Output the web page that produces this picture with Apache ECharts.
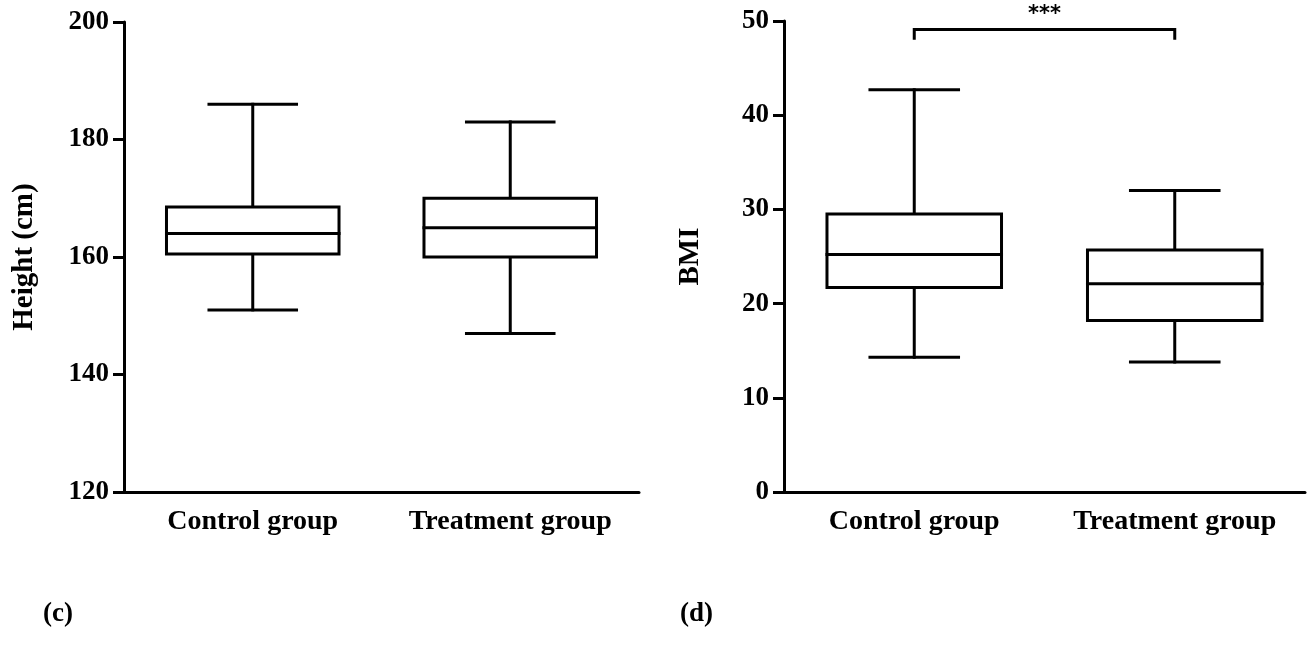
<!DOCTYPE html>
<html>
<head>
<meta charset="utf-8">
<script src="https://cdn.jsdelivr.net/npm/echarts@6/dist/echarts.min.js"></script>
<style>
html,body{margin:0;padding:0;background:#fff;}
#chart{width:1310px;height:662px;}
</style>
</head>
<body>
<div id="chart"></div>
<script>
// ---- data ----
const categories = ['Control group', 'Treatment group'];
// [low whisker, Q1, median, Q3, high whisker]
const heightControl = [151, 160.5, 164, 168.5, 186];
const heightTreatment = [147, 160, 165, 170, 183];
const bmiControl = [14.3, 21.7, 25.2, 29.5, 42.7];
const bmiTreatment = [13.8, 18.2, 22.1, 25.7, 32.0];
const heightTicks = [120, 140, 160, 180, 200];
const bmiTicks = [0, 10, 20, 30, 40, 50];
const sigPair = [0, 1];          // category indices joined by the bracket
const sigLevels = [49.1, 48.0];  // bracket bar level, bracket end level
const sigLabel = '***';
const panelLabels = ['(c)', '(d)'];

const FONT = 'Liberation Serif';
const BLACK = '#000';

function boxRender(params, api) {
  const x = api.value(0);
  const low = api.coord([x, api.value(1)]);
  const q1 = api.coord([x, api.value(2)]);
  const med = api.coord([x, api.value(3)]);
  const q3 = api.coord([x, api.value(4)]);
  const high = api.coord([x, api.value(5)]);
  const band = api.size([1, 0])[0];
  const bw = band * 0.67, cw = band * 0.34;
  const cx = low[0];
  const st = { stroke: BLACK, lineWidth: 3, fill: null, lineCap: 'square' };
  return {
    type: 'group',
    children: [
      { type: 'line', shape: { x1: cx, y1: q3[1], x2: cx, y2: high[1] }, style: st },
      { type: 'line', shape: { x1: cx, y1: q1[1], x2: cx, y2: low[1] }, style: st },
      { type: 'line', shape: { x1: cx - cw / 2, y1: high[1], x2: cx + cw / 2, y2: high[1] }, style: st },
      { type: 'line', shape: { x1: cx - cw / 2, y1: low[1], x2: cx + cw / 2, y2: low[1] }, style: st },
      { type: 'rect', shape: { x: cx - bw / 2, y: q3[1], width: bw, height: q1[1] - q3[1] },
        style: { stroke: BLACK, lineWidth: 3, fill: '#fff' } },
      { type: 'line', shape: { x1: cx - bw / 2, y1: med[1], x2: cx + bw / 2, y2: med[1] }, style: st }
    ]
  };
}

function bracketRender(params, api) {
  const a = api.value(0), b = api.value(1);
  const top = api.value(2), end = api.value(3);
  const p1 = api.coord([a, end]);
  const p2 = api.coord([a, top]);
  const p3 = api.coord([b, top]);
  const p4 = api.coord([b, end]);
  return {
    type: 'group',
    children: [
      { type: 'polyline', shape: { points: [p1, p2, p3, p4] },
        style: { stroke: BLACK, lineWidth: 3, fill: null } },
      { type: 'text', x: (p2[0] + p3[0]) / 2, y: p2[1] - 15,
        style: { text: sigLabel, fill: BLACK, font: 'bold 21px "DejaVu Sans"', align: 'center', verticalAlign: 'middle' } }
    ]
  };
}

function xAxisDef(gridIndex) {
  return {
    type: 'category', gridIndex, data: categories,
    axisLine: { lineStyle: { color: BLACK, width: 3 } },
    axisTick: { alignWithLabel: true, interval: 0, length: 11, lineStyle: { color: BLACK, width: 3 } },
    axisLabel: { interval: 0, hideOverlap: false, color: BLACK, fontFamily: FONT, fontWeight: 'bold', fontSize: 28, margin: 16 },
    splitLine: { show: false }
  };
}
function yAxisDef(gridIndex, ticks, name, gap) {
  return {
    type: 'value', gridIndex,
    min: ticks[0], max: ticks[ticks.length - 1], interval: ticks[1] - ticks[0],
    name, nameLocation: 'middle', nameGap: gap,
    nameTextStyle: { color: BLACK, fontFamily: FONT, fontWeight: 'bold', fontSize: 29 },
    axisLine: { show: true, lineStyle: { color: BLACK, width: 3 } },
    axisTick: { show: true, length: 11, lineStyle: { color: BLACK, width: 3 } },
    axisLabel: { color: BLACK, fontFamily: FONT, fontWeight: 'bold', fontSize: 27, margin: 15 },
    splitLine: { show: false }
  };
}

const chart = echarts.init(document.getElementById('chart'));
chart.setOption({
  backgroundColor: '#fff',
  animation: false,
  title: [
    { text: panelLabels[0], left: 38, top: 596, textStyle: { color: BLACK, fontFamily: FONT, fontWeight: 'bold', fontSize: 27 } },
    { text: panelLabels[1], left: 675, top: 596, textStyle: { color: BLACK, fontFamily: FONT, fontWeight: 'bold', fontSize: 27 } }
  ],
  grid: [
    { left: 124, right: 671, top: 22, bottom: 170 },
    { left: 784, right: 5, top: 21, bottom: 170 }
  ],
  xAxis: [xAxisDef(0), xAxisDef(1)],
  yAxis: [yAxisDef(0, heightTicks, 'Height (cm)', 85), yAxisDef(1, bmiTicks, 'BMI', 79)],
  series: [
    { type: 'custom', xAxisIndex: 0, yAxisIndex: 0, renderItem: boxRender,
      encode: { x: 0, y: [1, 2, 3, 4, 5] },
      data: [[0].concat(heightControl), [1].concat(heightTreatment)] },
    { type: 'custom', xAxisIndex: 1, yAxisIndex: 1, renderItem: boxRender,
      encode: { x: 0, y: [1, 2, 3, 4, 5] },
      data: [[0].concat(bmiControl), [1].concat(bmiTreatment)] },
    { type: 'custom', xAxisIndex: 1, yAxisIndex: 1, renderItem: bracketRender, clip: false,
      encode: { x: [0, 1], y: [2, 3] },
      data: [[sigPair[0], sigPair[1], sigLevels[0], sigLevels[1]]] }
  ]
});
</script>
</body>
</html>
